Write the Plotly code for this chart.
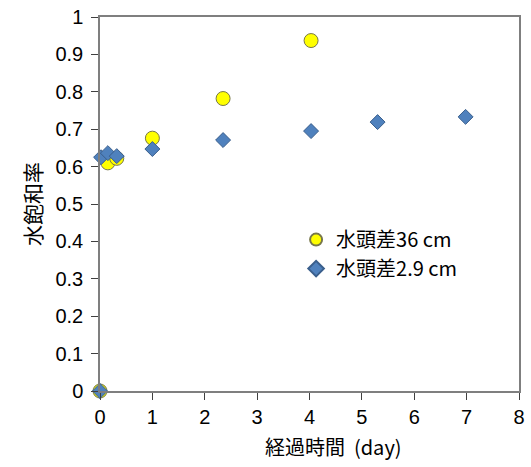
import plotly.graph_objects as go

x36 = [0, 0.15, 0.32, 1.0, 2.35, 4.03]
y36 = [0.0, 0.61, 0.622, 0.676, 0.782, 0.937]
x29 = [0, 0.02, 0.15, 0.32, 1.0, 2.35, 4.03, 5.3, 6.98]
y29 = [0.0, 0.625, 0.636, 0.628, 0.647, 0.671, 0.695, 0.719, 0.733]
name36 = "水頭差36 cm"
name29 = "水頭差2.9 cm"
xtitle = "経過時間  (day)"
ytitle = "水飽和率"

fig = go.Figure()
fig.add_trace(go.Scatter(x=x36, y=y36, mode="markers", name=name36, cliponaxis=False,
                         marker=dict(symbol="circle", size=14, color="#FFFF00",
                                     line=dict(color="#77774A", width=1))))
fig.add_trace(go.Scatter(x=x29, y=y29, mode="markers", name=name29, cliponaxis=False,
                         marker=dict(symbol="diamond", size=11.5, color="#4F81BD",
                                     line=dict(color="#3A5F8C", width=1))))

axis_common = dict(showline=True, linecolor="#7F7F7F", linewidth=1.5, mirror=True,
                   ticks="outside", ticklen=7, tickcolor="#404040", showgrid=False,
                   zeroline=False, automargin=False, ticklabeloverflow="allow",
                   tickfont=dict(family="Liberation Sans, Arial", size=20, color="#000"))
fig.update_xaxes(range=[0, 8], dtick=1, **axis_common)
fig.update_yaxes(range=[0, 1], dtick=0.1, ticklabelstandoff=4, title=dict(text=ytitle,
                 font=dict(family="Noto Sans CJK JP", size=21, color="#000"), standoff=8), **axis_common)
fig.add_annotation(text=xtitle, xref="paper", yref="paper", x=0.558, y=-0.149,
                   xanchor="center", yanchor="middle", showarrow=False,
                   font=dict(family="Noto Sans CJK JP", size=20, color="#000"))
fig.update_layout(width=531, height=467, margin=dict(l=100, r=12, t=17, b=76),
                  plot_bgcolor="white", paper_bgcolor="white",
                  legend=dict(x=0.468, y=0.366, xanchor="left", yanchor="middle",
                              font=dict(family="Noto Sans CJK JP", size=20, color="#000"),
                              bgcolor="rgba(0,0,0,0)", itemsizing="constant"),
                  showlegend=True)
fig.write_html("out.html", config={"displayModeBar": False},
               post_script="document.body.style.margin='0';")
